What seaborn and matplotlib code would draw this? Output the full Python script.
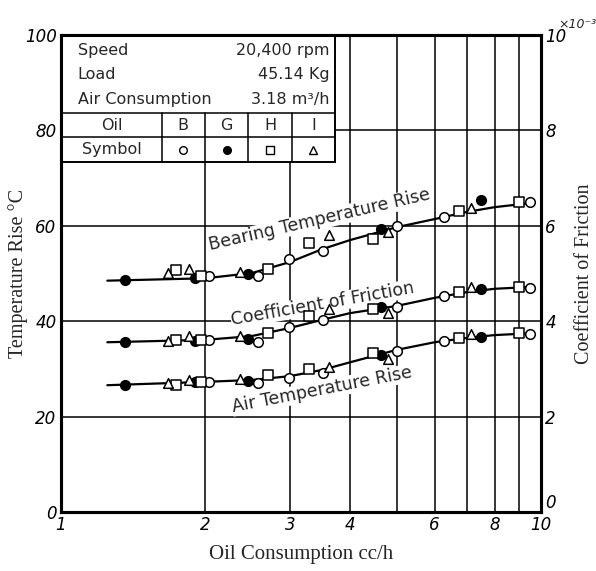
import numpy as np
import pandas as pd
import matplotlib
matplotlib.use('Agg')
import matplotlib.pyplot as plt
import seaborn as sns
from matplotlib.patches import Rectangle
from matplotlib.ticker import NullFormatter

# --- data --------------------------------------------------------------
# oil B (open circle)
b_x = [2.03, 2.57, 2.98, 3.51, 5.01, 6.27, 9.5]
b_bearing = [49.5, 49.5, 53.0, 54.7, 60.0, 61.8, 65.0]
b_friction = [3.61, 3.56, 3.88, 4.03, 4.30, 4.53, 4.70]
b_air = [27.3, 27.0, 28.1, 29.1, 33.8, 35.8, 37.3]

# oil G (filled circle)
g_x = [1.36, 1.90, 2.45, 4.63, 7.5]
g_bearing = [48.6, 49.0, 49.9, 59.3, 65.4]
g_friction = [3.56, 3.58, 3.63, 4.30, 4.68]
g_air = [26.6, 27.3, 27.5, 32.9, 36.7]

# oil H (open square)
h_x = [1.74, 1.96, 2.70, 3.28, 4.47, 6.74, 9.0]
h_bearing = [50.7, 49.5, 50.9, 56.4, 57.2, 63.1, 65.0]
h_friction = [3.61, 3.61, 3.75, 4.11, 4.26, 4.61, 4.72]
h_air = [26.6, 27.3, 28.7, 30.0, 33.3, 36.5, 37.5]

# oil I (open triangle)
i_x = [1.67, 1.85, 2.36, 3.62, 4.81, 7.16]
i_bearing = [50.1, 50.9, 50.3, 58.0, 58.7, 63.7]
i_friction = [3.58, 3.69, 3.69, 4.26, 4.17, 4.72]
i_air = [27.0, 27.7, 27.9, 30.4, 32.1, 37.3]

# mean curves drawn through the points
curve_x = [1.25, 2.0, 2.5, 3.0, 3.5, 4.0, 5.0, 6.0, 7.0, 8.0, 9.6]
bearing_curve = [48.5, 49.0, 50.1, 52.4, 55.1, 57.0, 59.7, 61.4, 62.9, 63.9, 64.8]
friction_curve = [3.56, 3.61, 3.69, 3.86, 4.03, 4.17, 4.32, 4.49, 4.61, 4.68, 4.72]
air_curve = [26.6, 27.3, 27.7, 28.5, 29.8, 31.4, 34.0, 35.6, 36.5, 37.1, 37.5]

x_ticks = [1, 2, 3, 4, 6, 8, 10]
x_minor = [5, 7, 9]
temp_ticks = [0, 20, 40, 60, 80, 100]
fric_ticks = [0, 2, 4, 6, 8, 10]

oils = ['B', 'G', 'H', 'I']
oil_data = {
    'B': (b_x, b_bearing, b_friction, b_air),
    'G': (g_x, g_bearing, g_friction, g_air),
    'H': (h_x, h_bearing, h_friction, h_air),
    'I': (i_x, i_bearing, i_friction, i_air),
}
oil_style = {
    'B': dict(marker='o', color='white'),
    'G': dict(marker='o', color='black'),
    'H': dict(marker='s', color='white'),
    'I': dict(marker='^', color='white'),
}

# --- figure ----------------------------------------------------------------
sns.set_theme(style='white')
plt.rcParams['font.family'] = ['DejaVu Sans']
serif = ['Liberation Serif', 'DejaVu Serif']

fig = plt.figure(figsize=(5.96, 5.71), dpi=100)
ax = fig.add_axes([0.102, 0.103, 0.806, 0.836])
ax2 = ax.twinx()

ax.set_xscale('log')
ax.set_xlim(1, 10)
ax.set_ylim(0, 100)
ax2.set_ylim(0, 10)

# curves
sns.lineplot(x=curve_x, y=bearing_curve, ax=ax, color='black', lw=1.6, sort=False, zorder=3)
sns.lineplot(x=curve_x, y=air_curve, ax=ax, color='black', lw=1.6, sort=False, zorder=3)
sns.lineplot(x=curve_x, y=friction_curve, ax=ax2, color='black', lw=1.6, sort=False, zorder=3)

# points
for oil in oils:
    xs, bear, fric, air = oil_data[oil]
    st = oil_style[oil]
    kw = dict(marker=st['marker'], color=st['color'], edgecolor='black',
              linewidth=1.1, s=48, zorder=4, legend=False)
    sns.scatterplot(x=xs, y=bear, ax=ax, **kw)
    sns.scatterplot(x=xs, y=air, ax=ax, **kw)
    sns.scatterplot(x=xs, y=fric, ax=ax2, **kw)

# ticks and grid
tick_font = dict(fontstyle='italic', fontsize=12)
ax.set_xticks(x_ticks, labels=[str(v) for v in x_ticks], **tick_font)
ax.set_xticks(x_minor, minor=True)
ax.xaxis.set_minor_formatter(NullFormatter())
ax.set_yticks(temp_ticks, labels=[str(v) for v in temp_ticks], **tick_font)
ax2.set_yticks(fric_ticks, labels=[str(v) for v in fric_ticks], **tick_font)
for a in (ax, ax2):
    a.tick_params(which='both', length=0, colors='black', pad=3)
    for sp in a.spines.values():
        sp.set_color('black')
        sp.set_linewidth(2.2)
ax.grid(True, which='both', axis='x', color='black', lw=1.1)
ax.grid(True, which='major', axis='y', color='black', lw=1.1)
ax.set_axisbelow(True)
ax2.get_yticklabels()[0].set_verticalalignment('bottom')

fig.text(0.937, 0.957, '×10⁻³', fontsize=9, fontstyle='italic', ha='left', va='center')

ax.set_xlabel('Oil Consumption cc/h', family=serif, fontsize=15, labelpad=8)
ax.set_ylabel('Temperature Rise °C', family=serif, fontsize=14.5)
ax.yaxis.set_label_coords(-0.068, 0.5)
ax2.set_ylabel('Coefficient of Friction', family=serif, fontsize=14.5, labelpad=6)

# curve labels
lbl = dict(fontsize=12.5, ha='center', va='center', rotation_mode='anchor',
           bbox=dict(facecolor='white', edgecolor='none', pad=0.3), zorder=3.5)
ax.text(3.46, 61.2, 'Bearing Temperature Rise', rotation=13, **lbl)
ax.text(3.51, 43.6, 'Coefficient of Friction', rotation=10, **lbl)
ax.text(3.50, 25.6, 'Air Temperature Rise', rotation=11, **lbl)

# conditions table in the upper-left corner
tr = ax.transAxes
t_left, t_right, t_top, t_bot = 0.0, 0.571, 1.0, 0.734
row1, row2 = 0.836, 0.786
cols = [0.210, 0.300, 0.390, 0.481]
ax.add_patch(Rectangle((t_left, t_bot), t_right - t_left, t_top - t_bot, transform=tr,
                       facecolor='white', edgecolor='black', lw=1.4, zorder=5))
for yy in (row1, row2):
    ax.plot([t_left, t_right], [yy, yy], transform=tr, color='black', lw=1.1, zorder=6)
for xx in cols:
    ax.plot([xx, xx], [t_bot, row1], transform=tr, color='black', lw=1.1, zorder=6)

tk = dict(transform=tr, fontsize=11.5, va='center', zorder=7)
ax.text(0.035, 0.968, 'Speed', ha='left', **tk)
ax.text(0.035, 0.916, 'Load', ha='left', **tk)
ax.text(0.035, 0.864, 'Air Consumption', ha='left', **tk)
ax.text(0.560, 0.968, '20,400 rpm', ha='right', **tk)
ax.text(0.560, 0.916, '45.14 Kg', ha='right', **tk)
ax.text(0.560, 0.864, '3.18 m³/h', ha='right', **tk)
ax.text(0.106, 0.811, 'Oil', ha='center', **tk)
ax.text(0.106, 0.759, 'Symbol', ha='center', **tk)
col_centres = [(cols[0] + cols[1]) / 2, (cols[1] + cols[2]) / 2,
               (cols[2] + cols[3]) / 2, (cols[3] + t_right) / 2]
for oil, cx in zip(oils, col_centres):
    ax.text(cx, 0.811, oil, ha='center', **tk)
    st = oil_style[oil]
    ax.plot([cx], [0.759], transform=tr, marker=st['marker'], mfc=st['color'],
            mec='black', mew=1.0, ms=5.5, ls='none', zorder=7, clip_on=False)

fig.savefig('out.png', dpi=100)
